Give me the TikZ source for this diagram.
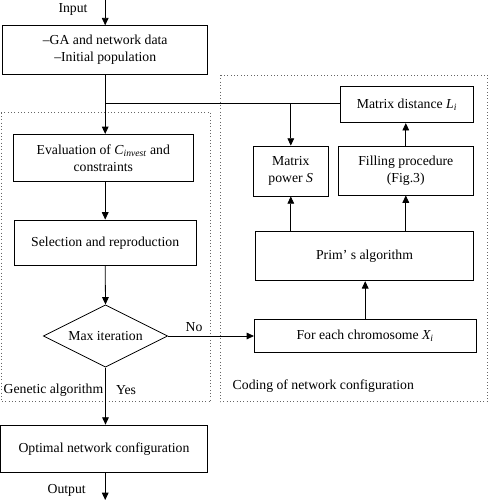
\documentclass[tikz,border=0pt]{standalone}
\usepackage{fontspec}
\setmainfont{Liberation Serif}
\usetikzlibrary{calc,arrows.meta,shapes.geometric}

\begin{document}
\begin{tikzpicture}[x=0.75pt,y=-0.75pt,line width=0.6pt,
		box/.style={draw,align=center,inner sep=1pt,font=\fontsize{10.3}{12.5}\selectfont},
		lbl/.style={inner sep=1pt,font=\fontsize{10.3}{12.5}\selectfont},
		arr/.style={-{Triangle[length=5.5pt,width=5pt]}},
		area/.style={dotted,line width=0.5pt,black!60}]
			\useasboundingbox (0,0) rectangle (488,500);
			\draw[area] (1,112.7) rectangle (210.7,401.7);
			\draw[area] (220,75) rectangle (487.3,401.7);

			\node[box,minimum width=153.8pt,minimum height=36.5pt] (data) at (105.2,50) {--GA and network data\\--Initial population};
			\node[box,minimum width=135pt,minimum height=35.5pt] (eval) at (103.3,158) {Evaluation of \textit{C\textsubscript{invest}} and\\constraints};
			\node[box,minimum width=136.3pt,minimum height=34.3pt] (select) at (105.2,242.8) {Selection and reproduction};
			\node[box,diamond,aspect=2,inner sep=0pt,minimum width=93.3pt,minimum height=46.7pt] (iter) at (105.5,336) {Max iteration};
			\node[box,minimum width=155pt,minimum height=35.8pt] (opt) at (104,448.9) {Optimal network configuration};
			\node[box,minimum width=166.3pt,minimum height=24.5pt] (chrom) at (365.2,335.7) {For each chromosome \textit{X\textsubscript{i}}};
			\node[box,minimum width=163.2pt,minimum height=37.3pt] (prim) at (364.5,255.9) {Prim’ s algorithm};
			\node[box,minimum width=56.3pt,minimum height=37.5pt] (mpow) at (290.8,171) {Matrix\\power \textit{S}};
			\node[box,minimum width=101.3pt,minimum height=36.8pt] (fill) at (405.8,170.5) {Filling procedure\\(Fig.3)};
			\node[box,minimum width=99.5pt,minimum height=27pt] (mdist) at (407,104.7) {Matrix distance \textit{L\textsubscript{i}}};

			\coordinate (in) at (105.2,0);
			\coordinate (j) at (105.2,103.3);
			\coordinate (out) at (105.2,500);

			\draw[arr] (in) -- (data.north);
			\draw (data.south) -- (j);
			\draw[arr] (j) -- (eval.north -| j);
			\draw (j) -- (j -| mdist.west);
			\draw[arr] (j -| mpow) -- (mpow.north);
			\draw[arr] (eval.south -| select) -- (select.north);
			\draw[arr] (select.south) -- (iter.north);
			\draw[arr] (iter.east) -- (chrom.west |- iter.east);
			\draw[arr] (iter.south) -- (opt.north -| iter);
			\draw[arr] (opt.south -| out) -- (out);
			\draw[arr] (chrom.north) -- (prim.south -| chrom.north);
			\draw[arr] (prim.north -| mpow) -- (mpow.south);
			\draw[arr] (prim.north -| fill) -- (fill.south);
			\draw[arr] (fill.north) -- (fill.north |- mdist.south);

			\node[lbl] (inlbl) at (73,9) {Input};
			\node[lbl] (outlbl) at (66.7,490.7) {Output};
			\node[lbl] (no) at (194,326.7) {No};
			\node[lbl] (yes) at (126,390) {Yes};
			\node[lbl,anchor=west] (ga) at (2,390) {Genetic algorithm};
			\node[lbl,anchor=west] (coding) at (231,386) {Coding of network configuration};
		\end{tikzpicture}
\end{document}
